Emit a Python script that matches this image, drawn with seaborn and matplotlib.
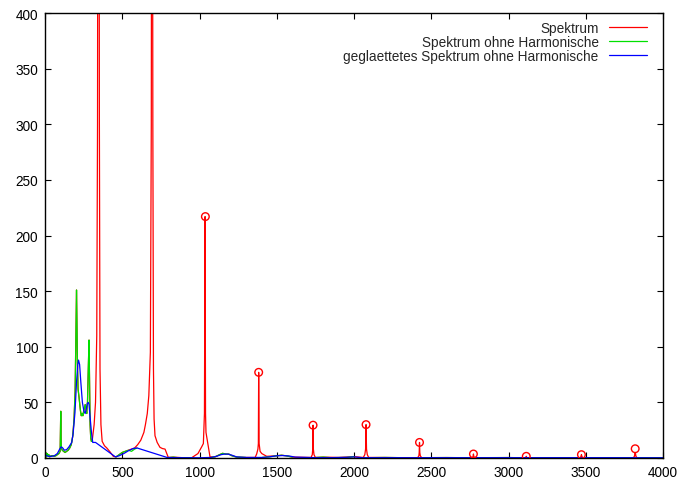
import numpy as np
import pandas as pd
import matplotlib
matplotlib.use("Agg")
import matplotlib.pyplot as plt
import seaborn as sns

# ---------------- data ----------------
# full spectrum (red)
spek_freq = [0, 5, 10, 15, 20, 25, 30, 40, 50, 60, 70, 80, 90, 98, 102, 105, 108, 112,
             120, 130, 140, 150, 160, 170, 180, 188, 195, 200, 204, 207, 210, 214, 220,
             225, 230, 235, 240, 245, 250, 255, 260, 265, 270, 275, 280, 285, 289, 292,
             296, 300, 305, 318, 327, 335, 340, 344, 348, 352, 356, 362, 370, 385, 400,
             421, 442, 460, 480, 500, 540, 580, 600, 620, 640, 650, 662, 672, 682, 688,
             691, 695, 698, 702, 706, 712, 726, 744, 760, 777, 798, 830, 900, 949, 990,
             1014, 1025, 1032, 1036, 1039, 1042, 1049, 1057, 1068, 1100, 1130, 1150, 1170,
             1190, 1210, 1240, 1300, 1360, 1370, 1378, 1381, 1383, 1386, 1392, 1403, 1435,
             1500, 1530, 1560, 1600, 1700, 1722, 1730, 1733, 1735, 1737, 1741, 1750, 1800,
             1900, 2000, 2060, 2070, 2075, 2078, 2081, 2086, 2095, 2200, 2300, 2412, 2420,
             2422, 2424, 2426, 2429, 2438, 2600, 2760, 2770, 2773, 2776, 2786, 3000, 3105,
             3112, 3115, 3118, 3125, 3300, 3460, 3468, 3472, 3476, 3484, 3700, 3808, 3815,
             3818, 3820, 3822, 3825, 3832, 4000]
spek_amp = [3, 5, 1, 4, 2, 3, 1, 2, 2, 1.5, 2, 3, 4, 6, 42, 12, 8, 7,
            6, 5, 6, 7, 9, 12, 20, 35, 60, 110, 151, 120, 85, 62, 55,
            48, 42, 38, 40, 38, 42, 45, 48, 45, 40, 50, 80, 106, 60, 30,
            18, 15, 15, 30, 50, 110, 300, 900, 900, 300, 80, 30, 15, 11, 9,
            5.5, 1.5, 1, 3, 5, 7, 9, 12, 16, 23, 30, 40, 56, 95, 300,
            700, 700, 300, 80, 35, 20, 14, 9.6, 8.5, 8, 0.5, 0.8, 0.2, 0.2, 4,
            10, 13, 40, 217, 40, 23, 17, 10, 1, 1, 3, 4.2, 3.5,
            3.5, 2, 0.8, 0.5, 0.5, 3.6, 8, 13, 77, 13, 6, 4, 1.5,
            2, 2.5, 2, 0.8, 0.5, 0.5, 3, 8, 29.5, 8, 3, 0.5, 0.8,
            0.5, 1.2, 0.5, 3, 8, 30, 8, 3, 0.5, 0.5, 0.3, 0.3, 2,
            5, 14, 5, 2, 0.3, 0.4, 0.2, 1, 3.6, 1, 0.2, 0.4, 0.2,
            0.5, 1.5, 0.5, 0.2, 0.3, 0.2, 1, 3, 1, 0.2, 0.3, 0.2, 1.5,
            4, 5, 4, 1.5, 0.2, 0.2]

# peak markers at the harmonics 3..11
harm_freq = [1038, 1383, 1735, 2078, 2424, 2773, 3115, 3472, 3820]
harm_amp = [217, 77, 29.5, 30, 14, 3.6, 1.5, 3, 8.3]

# spectrum without harmonics (green), segment ids separate the gaps
ohne_seg = [0] * 51 + [1] * 8 + [2] * 5 + [3] * 9 + [4] * 6 + [5] * 5 + [6] * 3 + [7] * 4 + [8] * 3 + [9] * 3 + [10] * 3 + [11] * 3
ohne_freq = [0, 5, 10, 15, 20, 25, 30, 40, 50, 60, 70, 80, 90, 98, 102, 105, 108, 112,
             120, 130, 140, 150, 160, 170, 180, 188, 195, 200, 204, 207, 210, 214, 220,
             225, 230, 235, 240, 245, 250, 255, 260, 265, 270, 275, 280, 285, 289, 292,
             296, 300, 305,
             460, 480, 500, 520, 540, 560, 580, 596,
             800, 830, 860, 900, 960,
             1075, 1100, 1130, 1150, 1170, 1190, 1210, 1240, 1300,
             1405, 1450, 1500, 1530, 1560, 1600,
             1750, 1800, 1850, 1950, 2000,
             2100, 2200, 2300,
             2440, 2600, 2700, 2750,
             2800, 3000, 3100,
             3130, 3300, 3450,
             3490, 3700, 3800,
             3840, 3950, 4000]
ohne_amp = [3, 5, 1, 4, 2, 3, 1, 2, 2, 1.5, 2, 3, 4, 6, 42, 12, 8, 7,
            6, 5, 6, 7, 9, 12, 20, 35, 60, 110, 151, 120, 85, 62, 55,
            48, 42, 38, 40, 38, 42, 45, 48, 45, 40, 50, 80, 106, 60, 30,
            18, 15, 15,
            1, 3, 5, 6, 7, 6, 8, 9,
            0.3, 0.8, 0.3, 0.2, 0.2,
            0.5, 1, 3, 4.2, 3.5, 3.5, 2, 0.8, 0.5,
            0.5, 1, 2, 2.5, 2, 0.8,
            0.4, 0.8, 0.3, 0.5, 1.2,
            0.3, 0.5, 0.3,
            0.3, 0.4, 0.3, 0.2,
            0.3, 0.4, 0.2,
            0.3, 0.3, 0.2,
            0.3, 0.3, 0.2,
            0.3, 0.2, 0.2]

# smoothed spectrum without harmonics (blue)
glatt_freq = [0, 20, 40, 60, 80, 95, 105, 115, 125, 140, 155, 173, 182, 194, 204, 212,
              217, 224, 232, 242, 252, 260, 267, 274, 280, 285, 291, 300, 309, 327,
              456, 480, 510, 540, 570, 596, 790, 850, 1000, 1075, 1110, 1140, 1160,
              1185, 1210, 1240, 1300, 1405, 1450, 1500, 1540, 1580, 1620, 1750, 1850,
              1950, 2000, 2050, 2200, 2440, 2800, 3200, 3600, 4000]
glatt_amp = [3, 1.5, 1.5, 2, 4, 8, 10, 9, 7, 7.5, 10, 14, 22, 41, 68, 84,
             88, 84, 68, 50, 42, 40, 44, 49, 50, 48, 38, 24, 14, 14,
             1, 2, 4, 6.5, 8.5, 9, 0.5, 0.3, 0.2, 0.5, 1.5, 3, 3.5,
             3.5, 2.5, 1, 0.5, 0.5, 1, 2, 2.2, 1.8, 0.8, 0.3, 0.3,
             0.6, 1, 0.3, 0.3, 0.3, 0.3, 0.3, 0.3, 0.2]

xticks = [0, 500, 1000, 1500, 2000, 2500, 3000, 3500, 4000]
yticks = [0, 50, 100, 150, 200, 250, 300, 350, 400]

labels = ["Spektrum", "Spektrum ohne Harmonische",
          "geglaettetes Spektrum ohne Harmonische"]

# ---------------- plotting ----------------
sns.set_style("ticks")
plt.rcParams["font.family"] = ["Liberation Sans", "DejaVu Sans"]

fig = plt.figure(figsize=(6.83, 4.85), dpi=100)
ax = fig.add_axes([45 / 683, 1 - 459 / 485, 618 / 683, 445 / 485])

df_spek = pd.DataFrame({"f": spek_freq, "a": spek_amp})
df_ohne = pd.DataFrame({"f": ohne_freq, "a": ohne_amp, "seg": ohne_seg})
df_glatt = pd.DataFrame({"f": glatt_freq, "a": glatt_amp})
df_harm = pd.DataFrame({"f": harm_freq, "a": harm_amp})

lw = 0.9
sns.lineplot(data=df_spek, x="f", y="a", sort=False, estimator=None,
             color="#ff0000", lw=lw, ax=ax, label=labels[0])
sns.scatterplot(data=df_harm, x="f", y="a", marker="o", s=30,
                facecolor="none", edgecolor="#ff0000", linewidth=1.0, ax=ax,
                legend=False, zorder=3)
for i, (seg, sub) in enumerate(df_ohne.groupby("seg", sort=True)):
    sns.lineplot(data=sub, x="f", y="a", sort=False, estimator=None,
                 color="#00e000", lw=lw, ax=ax,
                 label=labels[1] if i == 0 else None, legend=(i == 0))
sns.lineplot(data=df_glatt, x="f", y="a", sort=False, estimator=None,
             color="#0000ff", lw=lw, ax=ax, label=labels[2])

ax.set_xlim(0, 4000)
ax.set_ylim(0, 400)
ax.set_xticks(xticks)
ax.set_yticks(yticks)
ax.set_xlabel("")
ax.set_ylabel("")
for s in ax.spines.values():
    s.set_visible(True)
    s.set_color("black")
    s.set_linewidth(1.0)
ax.tick_params(direction="in", length=4.5, width=0.8, top=True, right=True,
               labelsize=9.8, colors="black", pad=5)

handles, labs = ax.get_legend_handles_labels()
keep = {}
for h, l in zip(handles, labs):
    if l in labels and l not in keep:
        keep[l] = h
leg = ax.legend([keep[l] for l in labels], labels,
                loc="upper right", bbox_to_anchor=(0.974, 0.982), frameon=False,
                markerfirst=False, handlelength=2.8, handletextpad=0.75,
                labelspacing=0.0, borderpad=0, borderaxespad=0, fontsize=9.8)
leg._legend_box.align = "right"

fig.savefig("out.png", dpi=100)
